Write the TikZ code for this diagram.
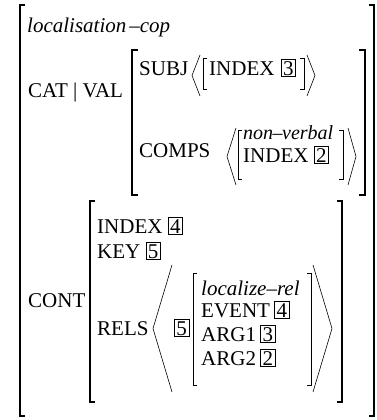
\documentclass[tikz,border=0pt]{standalone}
\usepackage{fontspec}
\setmainfont{Liberation Serif}
% left / right square brackets and angle brackets of the feature structure
\newcommand\avmlb[4]{\draw[brk] (#1+#4,#2) -- (#1,#2) -- (#1,#3) -- (#1+#4,#3);}
\newcommand\avmrb[4]{\draw[brk] (#1-#4,#2) -- (#1,#2) -- (#1,#3) -- (#1-#4,#3);}
\newcommand\avmang[4]{\draw[ang] (#2,#3) -- (#1,{(#3+#4)/2}) -- (#2,#4);}
\begin{document}
\begin{tikzpicture}[x=1pt,y=-1pt,
  txt/.style={anchor=base west, inner sep=0pt, font=\fontsize{21}{25}\selectfont},
  itxt/.style={anchor=base west, inner sep=0pt, font=\fontsize{21}{25}\selectfont\itshape},
  tag/.style={draw, line width=0.7pt, anchor=base west, inner xsep=2pt, inner ysep=1.6pt,
              font=\fontsize{21}{25}\selectfont},
  brk/.style={line width=1.4pt},
  ang/.style={line width=0.6pt}]
\useasboundingbox (0,0) rectangle (376,420);

% outermost matrix
\avmlb{20}{5}{416}{5}
\avmrb{374}{5}{416}{5}
\node[itxt] (typ) at (27,33) {localisation\kern3pt–cop};

% CAT | VAL
\node[txt] (catval) at (28,97) {CAT | VAL};
\avmlb{132}{50}{195}{6}
\avmrb{365}{50}{195}{6}

\node[txt] (subj) at (139,75) {SUBJ};
\avmang{192}{200}{55}{96}
\begin{scope}[brk/.style={line width=1pt}]
\avmlb{203}{59}{89}{4}
\avmrb{304}{59}{89}{4}
\end{scope}
\node[txt] (sidx) at (209,75) {INDEX};
\node[tag] (t3a) at ([xshift=6pt]sidx.base east) {3};
\avmang{315}{307}{55}{96}

\node[txt] (comps) at (139,157) {COMPS};
\avmang{227}{236}{128}{185}
\begin{scope}[brk/.style={line width=1pt}]
\avmlb{238}{130}{179}{4}
\avmrb{343}{130}{179}{4}
\end{scope}
\node[itxt, font=\fontsize{20}{24}\selectfont\itshape] (nv) at (243,139) {non\kern-0.5pt–\kern-0.5pt verbal};
\node[txt] (cidx) at (243,162) {INDEX};
\node[tag] (t2a) at ([xshift=5pt]cidx.base east) {2};
\avmang{356}{348}{128}{185}

% CONT
\node[txt] (cont) at (28,307) {CONT};
\avmlb{90}{201}{402}{5}
\avmrb{342}{201}{402}{5}
\node[txt] (idx) at (97,233) {INDEX};
\node[tag] (t4a) at ([xshift=5pt]idx.base east) {4};
\node[txt] (key) at (97,258) {KEY};
\node[tag] (t5a) at ([xshift=5pt]key.base east) {5};
\node[txt] (rels) at (97,335) {RELS};
\avmang{153}{172}{265}{392}
\node[tag] (t5b) at (174,335) {5};
\begin{scope}[brk/.style={line width=1pt}]
\avmlb{193}{273}{385}{4}
\avmrb{311}{273}{385}{4}
\end{scope}
\node[itxt] (rel) at (201,295) {localize–rel};
\node[txt] (ev) at (201,317) {EVENT};
\node[tag] (t4b) at ([xshift=4pt]ev.base east) {4};
\node[txt] (a1) at (201,341) {ARG1};
\node[tag] (t3b) at ([xshift=4pt]a1.base east) {3};
\node[txt] (a2) at (201,365) {ARG2};
\node[tag] (t2b) at ([xshift=4pt]a2.base east) {2};
\avmang{332}{313}{265}{392}
\end{tikzpicture}
\end{document}
